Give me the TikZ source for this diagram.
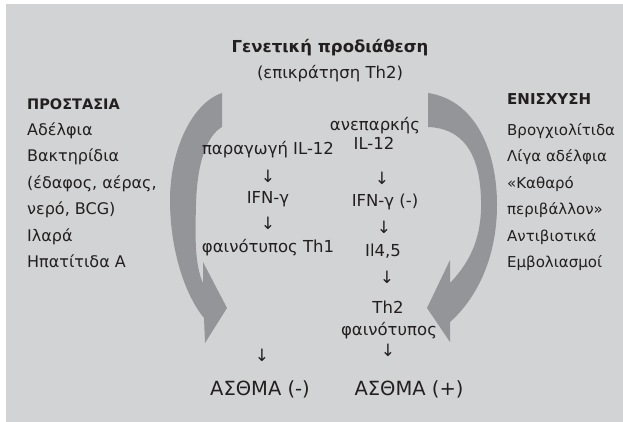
\documentclass[tikz,border=0pt]{standalone}
\usepackage{fontspec}
\setmainfont{DejaVu Sans}
\newfontfamily\arrfont{DejaVu Sans}
\definecolor{bggray}{HTML}{D2D3D4}
\definecolor{arrgray}{HTML}{939598}
\definecolor{ink}{HTML}{231F20}
\begin{document}
\begin{tikzpicture}[x=1pt,y=-1pt,
  txt/.style={inner sep=0pt,text=ink,font=\fontsize{15}{17}\selectfont},
  ltxt/.style={inner sep=0pt,text=ink,font=\fontsize{16}{18}\selectfont},
  mid/.style={inner sep=0pt,text=ink,font=\fontsize{16.5}{18}\selectfont},
  hdr/.style={txt,font=\fontsize{14.5}{18}\selectfont\bfseries},
  dn/.style={inner sep=0pt,text=ink,font=\fontsize{17}{19}\arrfont},
  big/.style={inner sep=0pt,text=ink,font=\fontsize{19.5}{22}\selectfont},
  blockarrow/.style={fill=arrgray,draw=none}]
\useasboundingbox (0,0) rectangle (623,422);
\fill[white] (0,0) rectangle (623,422);
\fill[bggray] (6,4) rectangle (623,422);
% block arrows
\fill[blockarrow] (222,93) .. controls (192,103) and (170,150) .. (170,200)
  .. controls (170,250) and (185,295) .. (204,318)
  -- (205,343) -- (227,308) -- (203,262) -- (203,283)
  .. controls (195,265) and (195,240) .. (196,205)
  .. controls (197,160) and (208,135) .. (222,127) -- cycle;
\fill[blockarrow] (428,93) .. controls (475,100) and (497,150) .. (497,205)
  .. controls (497,260) and (475,300) .. (450,322)
  -- (450,342) -- (427,308) -- (450,260) -- (450,283)
  .. controls (472,260) and (482,235) .. (481,200)
  .. controls (480,150) and (460,128) .. (428,127) -- cycle;
% title
\node[hdr,font=\fontsize{16.5}{20}\selectfont\bfseries,anchor=base] (title) at (330,53) {Γενετική προδιάθεση};
\node[txt,font=\fontsize{16.5}{19}\selectfont,anchor=base] (sub) at (330,79) {(επικράτηση Th2)};
% left list
\node[hdr,anchor=base west] (prot) at (27,110) {ΠΡΟΣΤΑΣΙΑ};
\node[ltxt,anchor=base west] (l1) at (27,136) {Αδέλφια};
\node[ltxt,anchor=base west] (l2) at (27,162) {Βακτηρίδια};
\node[ltxt,anchor=base west] (l3) at (27,188.5) {(έδαφος, αέρας,};
\node[ltxt,anchor=base west] (l4) at (27,214.5) {νερό, BCG)};
\node[ltxt,anchor=base west] (l5) at (27,241) {Ιλαρά};
\node[ltxt,anchor=base west] (l6) at (27,267) {Ηπατίτιδα Α};
% right list
\node[hdr,font=\fontsize{15}{18}\selectfont\bfseries,anchor=base west] (enis) at (507,105) {ΕΝΙΣΧΥΣΗ};
\node[txt,anchor=base west] (r1) at (507,136) {Βρογχιολίτιδα};
\node[txt,anchor=base west] (r2) at (507,162) {Λίγα αδέλφια};
\node[txt,anchor=base west] (r3) at (507,188.5) {«Καθαρό};
\node[txt,anchor=base west] (r4) at (507,214.5) {περιβάλλον»};
\node[txt,anchor=base west] (r5) at (507,241) {Αντιβιοτικά};
\node[txt,anchor=base west] (r6) at (507,267) {Εμβολιασμοί};
% left middle column
\node[mid,anchor=base] (m1) at (268,155) {παραγωγή IL-12};
\node[dn] (a1) at (268,176) {↓};
\node[mid,anchor=base] (m2) at (268,203) {IFN-γ};
\node[dn] (a2) at (268,223) {↓};
\node[mid,anchor=base] (m3) at (268,252) {φαινότυπος Th1};
\node[dn] (a3) at (262,355) {↓};
\node[big,anchor=base] (asth1) at (260,395) {ΑΣΘΜΑ (-)};
% right middle column
\node[mid,anchor=base] (n1) at (375,131) {ανεπαρκής};
\node[mid,anchor=base] (n2) at (374,150) {IL-12};
\node[dn] (b1) at (382,178) {↓};
\node[mid,anchor=base] (n3) at (385,206) {IFN-γ (-)};
\node[dn] (b2) at (384,227) {↓};
\node[mid,anchor=base] (n4) at (383,256) {Il4,5};
\node[dn] (b3) at (387,277) {↓};
\node[mid,anchor=base] (n5) at (388,313) {Th2};
\node[mid,anchor=base] (n6) at (389,335) {φαινότυπος};
\node[dn] (b4) at (388,350) {↓};
\node[big,anchor=base] (asth2) at (409,395) {ΑΣΘΜΑ (+)};
\end{tikzpicture}
\end{document}
